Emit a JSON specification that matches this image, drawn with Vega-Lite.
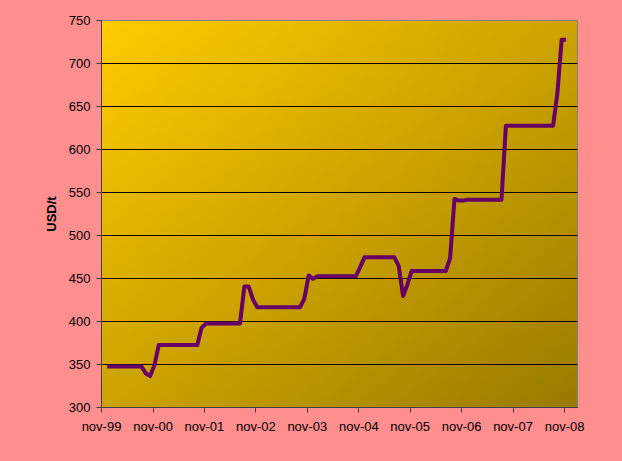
{
  "$schema": "https://vega.github.io/schema/vega-lite/v6.json",
  "width": 476,
  "height": 387,
  "autosize": "none",
  "padding": {"left": 101, "top": 20, "right": 45, "bottom": 54},
  "background": "#FF8E8E",
  "view": {
    "fill": {"gradient": "linear", "x1": 0, "y1": 0, "x2": 1, "y2": 1,
      "stops": [{"offset": 0, "color": "#FFCC00"}, {"offset": 0.5, "color": "#CCA300"}, {"offset": 1, "color": "#997A00"}]},
    "stroke": "#808080",
    "strokeWidth": 1
  },
  "data": {
    "values": [
      {"date": "1999-12-15", "price": 347},
      {"date": "2000-08-15", "price": 347},
      {"date": "2000-09-15", "price": 339},
      {"date": "2000-10-15", "price": 336},
      {"date": "2000-11-15", "price": 349},
      {"date": "2000-12-15", "price": 372},
      {"date": "2001-09-15", "price": 372},
      {"date": "2001-10-15", "price": 392},
      {"date": "2001-11-15", "price": 397},
      {"date": "2002-07-15", "price": 397},
      {"date": "2002-08-15", "price": 440},
      {"date": "2002-09-15", "price": 440},
      {"date": "2002-10-15", "price": 425},
      {"date": "2002-11-15", "price": 416},
      {"date": "2003-09-15", "price": 416},
      {"date": "2003-10-15", "price": 426},
      {"date": "2003-11-15", "price": 453},
      {"date": "2003-12-15", "price": 449},
      {"date": "2004-01-15", "price": 452},
      {"date": "2004-10-15", "price": 452},
      {"date": "2004-11-15", "price": 463},
      {"date": "2004-12-15", "price": 474},
      {"date": "2005-07-15", "price": 474},
      {"date": "2005-08-15", "price": 464},
      {"date": "2005-09-15", "price": 429},
      {"date": "2005-10-15", "price": 442},
      {"date": "2005-11-15", "price": 458},
      {"date": "2006-07-15", "price": 458},
      {"date": "2006-08-15", "price": 473},
      {"date": "2006-09-15", "price": 542},
      {"date": "2006-10-15", "price": 540},
      {"date": "2006-11-15", "price": 540},
      {"date": "2006-12-15", "price": 541},
      {"date": "2007-08-15", "price": 541},
      {"date": "2007-09-15", "price": 627},
      {"date": "2008-08-15", "price": 627},
      {"date": "2008-09-15", "price": 665},
      {"date": "2008-10-15", "price": 727},
      {"date": "2008-11-15", "price": 727}
    ]
  },
  "mark": {"type": "line", "color": "#660066", "strokeWidth": 4, "strokeJoin": "round", "strokeCap": "butt"},
  "encoding": {
    "x": {
      "field": "date",
      "type": "temporal",
      "scale": {"type": "utc", "domain": [{"year": 1999, "month": 11, "date": 1, "utc": true}, {"year": 2009, "month": 2, "date": 1, "utc": true}]},
      "axis": {
        "title": null,
        "values": [
          {"year": 1999, "month": 11, "date": 1, "utc": true},
          {"year": 2000, "month": 11, "date": 1, "utc": true},
          {"year": 2001, "month": 11, "date": 1, "utc": true},
          {"year": 2002, "month": 11, "date": 1, "utc": true},
          {"year": 2003, "month": 11, "date": 1, "utc": true},
          {"year": 2004, "month": 11, "date": 1, "utc": true},
          {"year": 2005, "month": 11, "date": 1, "utc": true},
          {"year": 2006, "month": 11, "date": 1, "utc": true},
          {"year": 2007, "month": 11, "date": 1, "utc": true},
          {"year": 2008, "month": 11, "date": 1, "utc": true}
        ],
        "labelExpr": "lower(utcFormat(datum.value, '%b-%y'))",
        "grid": false,
        "domain": true,
        "domainColor": "#404040",
        "tickColor": "#404040",
        "tickSize": 5,
        "labelPadding": 8,
        "labelFont": "Liberation Sans",
        "labelFontSize": 13,
        "labelColor": "#000000",
        "labelFlush": false,
        "labelOverlap": false
      }
    },
    "y": {
      "field": "price",
      "type": "quantitative",
      "scale": {"domain": [300, 750], "nice": false, "zero": false},
      "axis": {
        "title": "USD/t",
        "titleFont": "Liberation Sans",
        "titleFontSize": 13,
        "titleFontWeight": "bold",
        "titleColor": "#000000",
        "titlePadding": 10,
        "values": [300, 350, 400, 450, 500, 550, 600, 650, 700, 750],
        "grid": true,
        "gridColor": {"condition": {"test": "datum.value == 750", "value": "#808080"}, "value": "#000000"},
        "gridOpacity": 1,
        "gridWidth": 1,
        "domainColor": "#404040",
        "tickColor": "#404040",
        "tickSize": 5,
        "labelPadding": 6,
        "labelFont": "Liberation Sans",
        "labelFontSize": 13,
        "labelColor": "#000000"
      }
    }
  }
}
